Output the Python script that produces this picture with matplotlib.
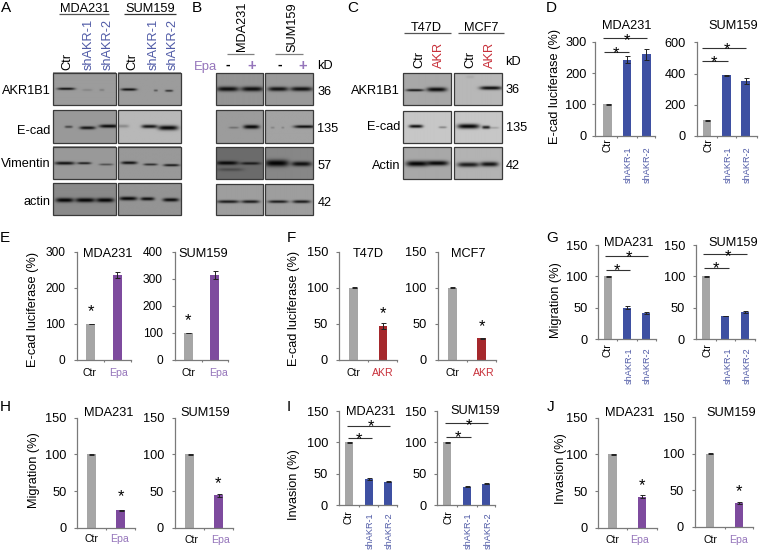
import numpy as np
import matplotlib
matplotlib.use('Agg')
import matplotlib.pyplot as plt
from matplotlib.patches import Rectangle

plt.rcParams['font.family'] = ['Liberation Sans', 'DejaVu Sans']
W, H = 759, 553
PX = 72 / 100  # points per pixel

# ---------- data ----------
CTR_SH = ['Ctr', 'shAKR-1', 'shAKR-2']
CTR_EPA = ['Ctr', 'Epa']
CTR_AKR = ['Ctr', 'AKR']

D1_VALUES = [100, 242, 260];  D1_ERR = [0.8, 11, 18]
D2_VALUES = [100, 388, 352];  D2_ERR = [1, 1.5, 22]
E1_VALUES = [100, 235];       E1_ERR = [0.8, 9]
E2_VALUES = [100, 315];       E2_ERR = [1, 15]
F1_VALUES = [100, 47];        F1_ERR = [0.5, 4]
F2_VALUES = [100, 30];        F2_ERR = [0.5, 0.8]
G1_VALUES = [100, 50, 42];    G1_ERR = [0.5, 2, 1.5]
G2_VALUES = [100, 37, 43];    G2_ERR = [0.5, 0.5, 1.5]
H1_VALUES = [100, 24];        H1_ERR = [0.4, 0.8]
H2_VALUES = [100, 44];        H2_ERR = [0.4, 2]
I1_VALUES = [100, 41, 37.5];  I1_ERR = [0.5, 1.5, 1]
I2_VALUES = [100, 29, 34];    I2_ERR = [0.5, 0.7, 0.7]
J1_VALUES = [100, 42];        J1_ERR = [0.4, 2]
J2_VALUES = [100, 32];        J2_ERR = [0.4, 1.5]

T300 = [0, 100, 200, 300]
T600 = [0, 200, 400, 600]
T400 = [0, 100, 200, 300, 400]
T150 = [0, 50, 100, 150]

GRAY, BLUE, PURPLE, RED = '#a6a6a6', '#3e50a2', '#7e4b9e', '#a5282c'
TXT_BLUE, TXT_PURPLE, TXT_RED = '#4f5aa6', '#9575bb', '#c8303a'
AXC = '#7a7a7a'
INK = '#000000'

fig = plt.figure(figsize=(W / 100, H / 100), dpi=100)
fig.patch.set_facecolor('white')

# pixel-coordinate overlay for blots, labels, and annotations
ov = fig.add_axes([0, 0, 1, 1], zorder=5)
ov.set_xlim(0, W); ov.set_ylim(H, 0); ov.axis('off'); ov.patch.set_alpha(0)


def T(x, y, s, size=9.2, color=INK, ha='center', rot=0, weight='normal'):
    em = size / PX
    if rot:
        ov.text(x + 0.36 * em, y, s, fontsize=size, color=color, ha=ha, va='baseline',
                rotation=90, rotation_mode='anchor', fontweight=weight)
    else:
        ov.text(x, y + 0.36 * em, s, fontsize=size, color=color, ha=ha, va='baseline',
                fontweight=weight)


def star(x, y, size=12):
    ov.text(x, y + 0.58 * size / PX, '*', fontsize=size, color=INK, ha='center', va='baseline')


def line(x0, x1, y, color='#333333', lw=0.8):
    ov.plot([x0, x1], [y, y], color=color, lw=lw, solid_capstyle='butt')


def chart(x0, x1, ytop, ybot, ymax, ticks, values, errs, c0, dx, colors, labels,
          label_colors, title, title_x, title_y, tick_pad=11, tick_size=9.2, bw=8.5):
    ax = fig.add_axes([x0 / W, 1 - ybot / H, (x1 - x0) / W, (ybot - ytop) / H])
    n = len(values)
    pos = np.arange(n)
    ax.set_xlim((x0 - c0) / dx, (x1 - c0) / dx)
    ax.set_ylim(0, ymax)
    ax.bar(pos, values, width=bw / dx, color=colors, linewidth=0)
    ax.errorbar(pos, values, yerr=errs, fmt='none', ecolor='#222222', elinewidth=0.7,
                capsize=1.8, capthick=0.7)
    for s in ('top', 'right'):
        ax.spines[s].set_visible(False)
    for s in ('left', 'bottom'):
        ax.spines[s].set_color(AXC); ax.spines[s].set_linewidth(0.9)
    ax.set_yticks(ticks)
    ax.tick_params(axis='y', length=3 * PX, width=0.8, color=AXC, labelsize=tick_size,
                   pad=(tick_pad - 3) * PX, labelcolor=INK)
    ax.set_xticks(list(pos[:-1] + 0.5) + [(x1 - c0) / dx])
    ax.set_xticklabels([])
    ax.tick_params(axis='x', length=2.5 * PX, width=0.8, color=AXC)
    ax.patch.set_alpha(0)
    T(title_x, title_y, title, size=9.2)
    return ax, pos


def xlabels_flat(xs, y, labels, colors, size=7.6):
    for x, l, c in zip(xs, labels, colors):
        T(x, y, l, size=size, color=c)


def xlabels_rot(xs, tops, labels, colors, size=6.6):
    for x, t, l, c in zip(xs, tops, labels, colors):
        T(x, t, l, size=size if l != 'Ctr' else 7.4, color=c, ha='right', rot=90)


COL3 = [GRAY, BLUE, BLUE]
LC3 = [INK, TXT_BLUE, TXT_BLUE]
LCE = [INK, TXT_PURPLE]
LCA = [INK, TXT_RED]

# ---------- D ----------
chart(595, 655, 41.7, 135.7, 300, T300, D1_VALUES, D1_ERR, 607.7, 19.3, COL3, CTR_SH, LC3, 'MDA231', 627, 24, tick_pad=8.3)
xlabels_rot([606.7, 627.7, 646.7], [138, 146, 146], CTR_SH, LC3)
line(603, 646.7, 38.3); star(627, 35.7)
line(604.3, 628.7, 52.3); star(616, 48)
chart(696.7, 757, 42.3, 136, 600, T600, D2_VALUES, D2_ERR, 707, 19.3, COL3, CTR_SH, LC3, 'SUM159', 733.7, 24, tick_pad=10.7)
xlabels_rot([707.3, 727.7, 746.7], [138, 146, 146], CTR_SH, LC3)
line(702.3, 745.7, 48.3); star(726.7, 44.3)
line(702.3, 727.7, 61.3); star(714.3, 57)
T(553, 86, 'E-cad luciferase (%)', rot=90)

# ---------- E ----------
chart(77.3, 130.7, 251.7, 360, 300, T300, E1_VALUES, E1_ERR, 90.7, 26.6, [GRAY, PURPLE], CTR_EPA, LCE, 'MDA231', 107.3, 252.7, tick_pad=12.3, tick_size=8.6)
xlabels_flat([89.3, 118], 371.7, CTR_EPA, LCE)
star(90.7, 306.7)
chart(175, 228.3, 251.7, 360, 400, T400, E2_VALUES, E2_ERR, 188.3, 26.4, [GRAY, PURPLE], CTR_EPA, LCE, 'SUM159', 203.3, 252.7, tick_pad=12.3, tick_size=8.6)
xlabels_flat([189, 219], 371.7, CTR_EPA, LCE)
star(188.3, 315.7)
T(31, 309.3, 'E-cad luciferase (%)', rot=90)

# ---------- F ----------
chart(339, 397.3, 251.7, 360, 150, T150, F1_VALUES, F1_ERR, 353.7, 29.1, [GRAY, RED], CTR_AKR, LCA, 'T47D', 368, 252.7)
xlabels_flat([353.3, 383], 371.7, CTR_AKR, LCA)
star(382.7, 308.3)
chart(437.7, 495.7, 251.7, 360, 150, T150, F2_VALUES, F2_ERR, 452.3, 29.4, [GRAY, RED], CTR_AKR, LCA, 'MCF7', 468.3, 252.7)
xlabels_flat([452.3, 483.3], 372, CTR_AKR, LCA)
star(482, 321)
T(292.7, 308.7, 'E-cad luciferase (%)', rot=90)

# ---------- G ----------
chart(598.3, 656, 245, 339, 150, T150, G1_VALUES, G1_ERR, 607.7, 19.3, COL3, CTR_SH, LC3, 'MDA231', 628.3, 241.7, bw=7.8)
xlabels_rot([606.7, 628.3, 646.7], [343, 347, 347], CTR_SH, LC3)
line(605, 648.3, 256.3); star(629, 252.7)
line(606, 630, 270); star(617.3, 265.3)
chart(696, 755, 245, 339, 150, T150, G2_VALUES, G2_ERR, 706, 19.3, COL3, CTR_SH, LC3, 'SUM159', 733.3, 241.7, bw=7.8)
xlabels_rot([706.7, 727.7, 746.7], [343, 347, 347], CTR_SH, LC3)
line(703.3, 746.7, 254.3); star(727.7, 251)
line(704.3, 729, 267.7); star(716, 263.7)
T(554.3, 300.3, 'Migration (%)', rot=90)

# ---------- H ----------
chart(77.3, 135, 417.7, 527.7, 150, T150, H1_VALUES, H1_ERR, 91.3, 29.4, [GRAY, PURPLE], CTR_EPA, LCE, 'MDA231', 108.3, 411)
xlabels_flat([91.3, 119.3], 537.7, CTR_EPA, LCE)
star(120.7, 491.7)
chart(175, 233.3, 417.7, 527.7, 150, T150, H2_VALUES, H2_ERR, 189.7, 29, [GRAY, PURPLE], CTR_EPA, LCE, 'SUM159', 205, 411)
xlabels_flat([191.7, 221], 539, CTR_EPA, LCE)
star(218.3, 478.3)
T(32.3, 470, 'Migration (%)', rot=90)

# ---------- I ----------
chart(339, 397, 411, 505, 150, T150, I1_VALUES, I1_ERR, 349.3, 19.3, COL3, CTR_SH, LC3, 'MDA231', 370.3, 410, bw=7.8)
xlabels_rot([348.3, 369.3, 388.7], [510, 512, 512], CTR_SH, LC3)
line(346.7, 390, 425.7); star(371, 421.7)
line(347.7, 372.3, 438.3); star(359.3, 434.3)
chart(437.3, 495, 411, 505, 150, T150, I2_VALUES, I2_ERR, 447.3, 19.5, COL3, CTR_SH, LC3, 'SUM159', 475.7, 409.3, bw=7.8)
xlabels_rot([447.3, 467.3, 487.3], [510, 512, 512], CTR_SH, LC3)
line(445, 488.3, 423.3); star(469.3, 420)
line(446, 470.7, 436.7); star(457.7, 432.3)
T(292.7, 485, 'Invasion (%)', rot=90)

# ---------- J ----------
chart(598.3, 656.7, 417.7, 527.7, 150, T150, J1_VALUES, J1_ERR, 612.7, 29.3, [GRAY, PURPLE], CTR_EPA, LCE, 'MDA231', 630, 411)
xlabels_flat([612.3, 639.3], 539, CTR_EPA, LCE)
star(642, 480)
chart(695, 753.3, 417, 526.7, 150, T150, J2_VALUES, J2_ERR, 710, 29, [GRAY, PURPLE], CTR_EPA, LCE, 'SUM159', 731.7, 411)
xlabels_flat([710, 739], 539, CTR_EPA, LCE)
star(739.3, 486)
T(559, 469, 'Invasion (%)', rot=90)


# ---------- western blots ----------
# each band: lane centre x, centre y, half width, half thickness, darkness
def blot(x0, x1, y0, y1, bg, bands):
    xs = np.linspace(x0, x1, int(round((x1 - x0) * 2)))
    ys = np.linspace(y0, y1, int(round((y1 - y0) * 2)))
    X, Y = np.meshgrid(xs, ys)
    img = np.full(X.shape, bg, dtype=float)
    for cx, cy, hw, ht, d in bands:
        img *= 1 - d * np.exp(-((X - cx) / hw) ** 4) * np.exp(-((Y - cy) / ht) ** 2)
    ov.imshow(img, extent=(x0, x1, y1, y0), cmap='gray', vmin=0, vmax=1, aspect='auto',
              interpolation='bilinear', zorder=1)
    ov.add_patch(Rectangle((x0, y0), x1 - x0, y1 - y0, fill=False, ec='#3a3a3a', lw=0.9, zorder=2))


A_ROWS = [(72.7, 105.3), (110, 142.7), (146.7, 179.3), (183.3, 215)]
A_COLS = [(52.7, 115.7), (118.3, 181)]
A_BG = [[.61, .61], [.60, .72], [.60, .60], [.54, .58]]
A_BANDS = [
    [[(65.7, 89.3, 9, 1.2, .9), (87, 90.5, 5, 1, .15), (101.7, 90.5, 2.5, 1, .2)],
     [(129, 90, 8, 1.3, .9), (156, 91, 2, 1, .45), (169.3, 91.3, 4, 1, .7)]],
    [[(68.3, 126.7, 4, 1.2, .55), (87.3, 127.7, 8, 1.6, .88), (109, 126, 10, 1.7, .95)],
     [(123, 126, 6, 1.6, .25), (149.7, 126.3, 8, 1.8, .88), (168.3, 127.7, 10, 2.4, .96)]],
    [[(64.3, 163.7, 10, 1.6, .9), (84, 163.7, 7, 1.2, .8), (106, 165, 7, 1, .5)],
     [(129.3, 163.3, 8, 1.5, .9), (150.7, 165, 7, 1.1, .72), (171.7, 165.7, 8, 1.2, .85)]],
    [[(64.3, 200.3, 9, 2.2, .97), (85, 200.3, 10, 2.2, .97), (105, 200.3, 9, 2.2, .97)],
     [(128.3, 198.7, 9, 1.9, .95), (147.7, 199, 7, 1.7, .92), (171, 200, 8, 1.8, .93)]],
]
B_ROWS = [(73.3, 105.3), (110, 142.7), (147.3, 179.3), (184, 215)]
B_COLS = [(215.7, 263.3), (265.3, 313)]
B_BG = [[.58, .6], [.61, .64], [.42, .53], [.62, .62]]
B_BANDS = [
    [[(227.3, 89.3, 11, 2.4, .92), (251.7, 89.3, 11, 2.4, .92)],
     [(278.3, 89.3, 10, 2.2, .9), (301.7, 89.3, 11, 2.2, .9)]],
    [[(233.3, 127.5, 5, 1, .3), (251, 126.7, 8, 2, .96)],
     [(272.7, 127.5, 2, 1, .2), (283, 127.5, 1.5, 1, .2), (305, 126.5, 11, 1.5, .92)]],
    [[(226.7, 163.3, 11, 1.9, .95), (250, 163.7, 10, 1.4, .78), (230, 170, 13, 1.6, .3)],
     [(277, 163.5, 12, 3.4, .98), (301.7, 164.2, 10, 2.4, .9)]],
    [[(227.7, 201.7, 11, 1.5, .85), (250, 201.7, 9, 1.5, .85)],
     [(278.3, 201.7, 10, 1.4, .85), (301.7, 201.7, 9, 1.5, .85)]],
]
C_ROWS = [(73.3, 105.3), (110.7, 142.7), (147.3, 179.3)]
C_COLS = [(403.3, 450.7), (454, 501.7)]
C_BG = [[.66, .72], [.78, .78], [.66, .7]]
C_BANDS = [
    [[(415, 90.5, 9, 1.2, .9), (436.7, 89.8, 10, 2.2, .95)],
     [(490.7, 88.3, 11, 1.8, .95), (470, 77, 4, 1.5, .07)]],
    [[(416, 126, 7, 1.6, .95), (442.7, 127, 4, 1, .35)],
     [(468.3, 126, 11, 2.4, .98), (486, 127, 4, 1.6, .85), (494, 127.5, 5, 1, .2)]],
    [[(417.3, 164, 11, 2.8, .98), (437.3, 163.5, 11, 2.5, .96)],
     [(468.3, 165, 11, 2.4, .85), (489.3, 164.5, 9, 2.4, .9)]],
]
for rows, cols, bg, bands in ((A_ROWS, A_COLS, A_BG, A_BANDS), (B_ROWS, B_COLS, B_BG, B_BANDS), (C_ROWS, C_COLS, C_BG, C_BANDS)):
    for r, (y0, y1) in enumerate(rows):
        for c, (x0, x1) in enumerate(cols):
            blot(x0, x1, y0, y1, bg[r][c], bands[r][c])
ov.set_xlim(0, W); ov.set_ylim(H, 0)

# A labels
T(84.7, 7.3, 'MDA231'); line(59.3, 109.3, 14.3, color='#555555', lw=0.9)
T(150, 7.3, 'SUM159'); line(124, 175.7, 14.3, color='#333333', lw=0.9)
for x, l, c in [(66, 'Ctr', INK), (87.3, 'shAKR-1', TXT_BLUE), (106, 'shAKR-2', TXT_BLUE),
                (130.7, 'Ctr', INK), (151.7, 'shAKR-1', TXT_BLUE), (170.7, 'shAKR-2', TXT_BLUE)]:
    T(x, 69.5, l, size=9.2, color=c, ha='left', rot=90)
for y, l in [(89.3, 'AKR1B1'), (129.3, 'E-cad'), (162.3, 'Vimentin'), (200, 'actin')]:
    T(50.5, y, l, ha='right')

# B labels
T(240, 26.7, 'MDA231', rot=90); line(227.3, 254.3, 53.7, color='#808080', lw=0.9)
T(290.7, 26.7, 'SUM159', rot=90); line(275.3, 302.7, 53.7, color='#808080', lw=0.9)
T(216.7, 65, 'Epa', size=9.4, color=TXT_PURPLE, ha='right')
T(227.7, 64, '-', size=10, weight='bold'); T(251.7, 64.5, '+', size=10.5, color=TXT_PURPLE, weight='bold')
T(279.3, 64, '-', size=10, weight='bold'); T(302.7, 64.5, '+', size=10.5, color=TXT_PURPLE, weight='bold')
T(316.7, 64.3, 'kD', ha='left')
for y, l in [(90.7, '36'), (127, '135'), (164, '57'), (201.3, '42')]:
    T(317.3, y, l, ha='left')

# C labels
T(426.7, 26, 'T47D'); line(404.3, 450.7, 33.3, color='#555555', lw=0.9)
T(481.7, 26, 'MCF7'); line(457.7, 504.3, 33.3, color='#555555', lw=0.9)
for x, l, c in [(417.3, 'Ctr', INK), (437.3, 'AKR', TXT_RED), (468.3, 'Ctr', INK), (488.3, 'AKR', TXT_RED)]:
    T(x, 67.7, l, color=c, ha='left', rot=90)
T(505, 60.3, 'kD', ha='left')
for y, l in [(88.3, '36'), (126.3, '135'), (164, '42')]:
    T(506, y, l, ha='left')
for y, l in [(89, 'AKR1B1'), (125.3, 'E-cad'), (164, 'Actin')]:
    T(400, y, l, ha='right')

# panel letters
for x, y, l in [(1, 7, 'A'), (191.7, 7, 'B'), (347.3, 7, 'C'), (546, 6, 'D'), (0, 236.7, 'E'),
                (286.7, 236.7, 'F'), (546, 236, 'G'), (0, 405.7, 'H'), (286.7, 405.7, 'I'), (546.7, 405.7, 'J')]:
    T(x, y, l, size=11, ha='left')

fig.savefig('out.png', dpi=100)
